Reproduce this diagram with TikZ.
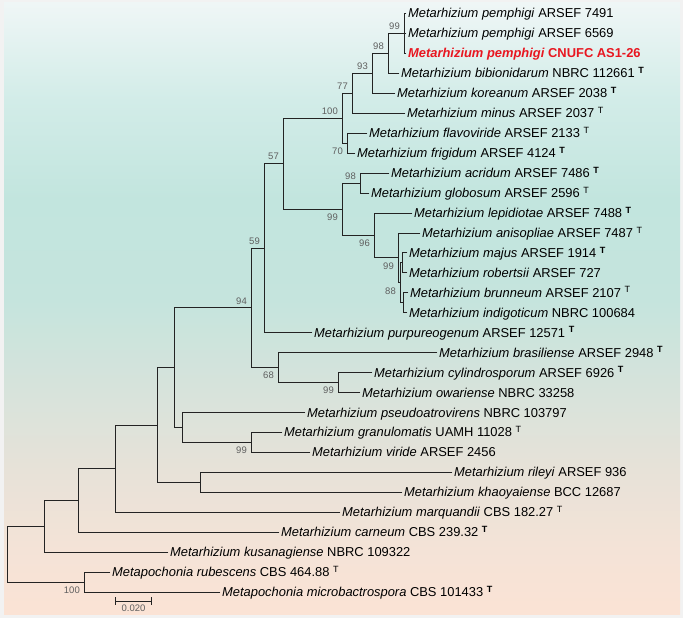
\documentclass[tikz,border=0pt]{standalone}
\usepackage{fontspec}
\setmainfont{Liberation Sans}
\usetikzlibrary{arrows,calc}
\definecolor{isolatered}{RGB}{232,22,32}
\definecolor{branchgray}{RGB}{35,35,35}
\definecolor{bootgray}{RGB}{95,95,95}
\definecolor{bgA}{RGB}{239,246,246}
\definecolor{bgB}{RGB}{210,236,232}
\definecolor{bgC}{RGB}{194,229,222}
\definecolor{bgD}{RGB}{197,228,221}
\definecolor{bgE}{RGB}{217,227,219}
\definecolor{bgF}{RGB}{231,226,216}
\definecolor{bgG}{RGB}{244,227,215}
\definecolor{bgH}{RGB}{251,227,213}
\pgfdeclareverticalshading{treebg}{100bp}{color(0bp)=(bgH); color(25bp)=(bgH); color(30.24bp)=(bgG); color(36.78bp)=(bgF); color(42.51bp)=(bgE); color(50.7bp)=(bgD); color(58.88bp)=(bgC); color(67.06bp)=(bgB); color(75bp)=(bgA); color(100bp)=(bgA)}
\newcommand{\Mz}[1]{\textit{Metarhizium #1}}
\newcommand{\Mp}[1]{\textit{Metapochonia #1}}
\newcommand{\typB}{~\textsuperscript{\textbf{T}}}
\newcommand{\typR}{~\textsuperscript{T}}
\tikzstyle{taxon}=[anchor=west,inner sep=2pt,text height=11pt,text depth=2pt,font=\fontsize{12.9}{14}\selectfont]
\tikzstyle{branch}=[draw=branchgray,line width=0.9pt,line cap=rect]
\tikzstyle{boot}=[font=\fontsize{9.5}{10}\selectfont,text=bootgray,inner sep=1pt]
\tikzstyle{bootup}=[boot,anchor=east,xshift=-3pt,yshift=7pt]
\tikzstyle{bootdown}=[boot,anchor=east,xshift=-3pt,yshift=-8pt]
\tikzstyle{scalebar}=[draw=branchgray,line width=0.8pt,|-|]

\begin{document}
\begin{tikzpicture}[x=1pt,y=-1pt]

    \fill[gray!10] (0,0) rectangle (683,618);
    \useasboundingbox (0,0) rectangle (683,618);
    \shade[shading=treebg] (4,3) rectangle (680,614);

    % internal nodes: x and mean leaf index
    \foreach \name/\x/\k in {n99a/404/2, n98a/388/3, n93/372/4, n77/352/5, n70/347/7.5, n100/342/6.25,
        n98b/360/9.5, nmr/402/13.5, nbi/403/15.5, ny/400/14.5, nx/398/13.25, n96/374/12.125,
        n99b/342/10.8125, n57/283/8.53125, n59/264/12.765625, nco/338/19.5, n68/278/18.75,
        n94/251/15.7578, ngv/251/22.5, npg/182/21.75, na5/174/18.7539, nrk/200/24.5,
        na4/157/21.627, na3/115/23.813, na2/78/25.407, na1/44/26.703, nmp/84/29.5, root/7/28.102}
        \coordinate (\name) at (\x,{13.5+19.95*(\k-1)});

    % leaves
    \foreach \name/\x/\k/\txt in {pem1/406/1/{\Mz{pemphigi} ARSEF 7491}, pem2/406/2/{\Mz{pemphigi} ARSEF 6569},
        bib/399/4/{\Mz{bibionidarum} NBRC 112661\typB}, kor/395/5/{\Mz{koreanum} ARSEF 2038\typB},
        min/405/6/{\Mz{minus} ARSEF 2037\typR}, fla/367/7/{\Mz{flavoviride} ARSEF 2133\typR},
        fri/355/8/{\Mz{frigidum} ARSEF 4124\typB}, acr/389/9/{\Mz{acridum} ARSEF 7486\typB},
        glo/369/10/{\Mz{globosum} ARSEF 2596\typR}, lep/412/11/{\Mz{lepidiotae} ARSEF 7488\typB},
        ani/420/12/{\Mz{anisopliae} ARSEF 7487\typR}, maj/407/13/{\Mz{majus} ARSEF 1914\typB},
        rob/407/14/{\Mz{robertsii} ARSEF 727}, bru/408/15/{\Mz{brunneum} ARSEF 2107\typR},
        ind/407/16/{\Mz{indigoticum} NBRC 100684}, pur/312/17/{\Mz{purpureogenum} ARSEF 12571\typB},
        bra/437/18/{\Mz{brasiliense} ARSEF 2948\typB}, cyl/372/19/{\Mz{cylindrosporum} ARSEF 6926\typB},
        owa/360/20/{\Mz{owariense} NBRC 33258}, pse/305/21/{\Mz{pseudoatrovirens} NBRC 103797},
        gra/282/22/{\Mz{granulomatis} UAMH 11028\typR}, vir/310/23/{\Mz{viride} ARSEF 2456},
        ril/452/24/{\Mz{rileyi} ARSEF 936}, kha/402/25/{\Mz{khaoyaiense} BCC 12687},
        mar/340/26/{\Mz{marquandii} CBS 182.27\typR}, car/279/27/{\Mz{carneum} CBS 239.32\typB},
        kus/168/28/{\Mz{kusanagiense} NBRC 109322}, rub/110/29/{\Mp{rubescens} CBS 464.88\typR},
        mic/220/30/{\Mp{microbactrospora} CBS 101433\typB}}
        \node[taxon] (\name) at (\x,{13.5+19.95*(\k-1)}) {\txt};
    \node[taxon,text=isolatered,font=\fontsize{12.9}{14}\selectfont\bfseries] (pemC) at (406,{13.5+19.95*2}) {\Mz{pemphigi} CNUFC AS1-26};

    % Connect nodes with branches
    \foreach \parent/\child in {n98a/n99a, n93/n98a, n77/n93, n100/n77, n100/n70, n57/n100, n57/n99b,
        n99b/n98b, n99b/n96, n96/nx, nx/ny, ny/nmr, ny/nbi, n59/n57, n94/n59, n94/n68, n68/nco,
        na5/n94, na5/npg, npg/ngv, na4/na5, na4/nrk, na3/na4, na2/na3, na1/na2, root/na1, root/nmp}
        \path[branch] (\parent) |- (\child);
    \foreach \parent/\child in {n99a/pem1, n99a/pem2, n99a/pemC, n98a/bib, n93/kor, n77/min, n70/fla, n70/fri,
        n98b/acr, n98b/glo, n96/lep, nx/ani, nmr/maj, nmr/rob, nbi/bru, nbi/ind, n59/pur, n68/bra,
        nco/cyl, nco/owa, npg/pse, ngv/gra, ngv/vir, nrk/ril, nrk/kha, na3/mar, na2/car, na1/kus,
        nmp/rub, nmp/mic}
        \path[branch] (\parent) |- (\child.west);

    % bootstrap values
    \foreach \n/\v in {n99a/99, n98a/98, n93/93, n77/77, n100/100, n98b/98, n57/57, n59/59, n94/94}
        \node[bootup] at (\n) {\v};
    \foreach \n/\v in {n70/70, n99b/99, n96/96, nx/99, ny/88, n68/68, nco/99, ngv/99, nmp/100}
        \node[bootdown] at (\n) {\v};

    \coordinate (sbl) at (115,601);
    \coordinate (sbr) at (152,601);
    \path[scalebar] (sbl) -- (sbr) node[boot,midway,below=2pt] {0.020};

\end{tikzpicture}
\end{document}
